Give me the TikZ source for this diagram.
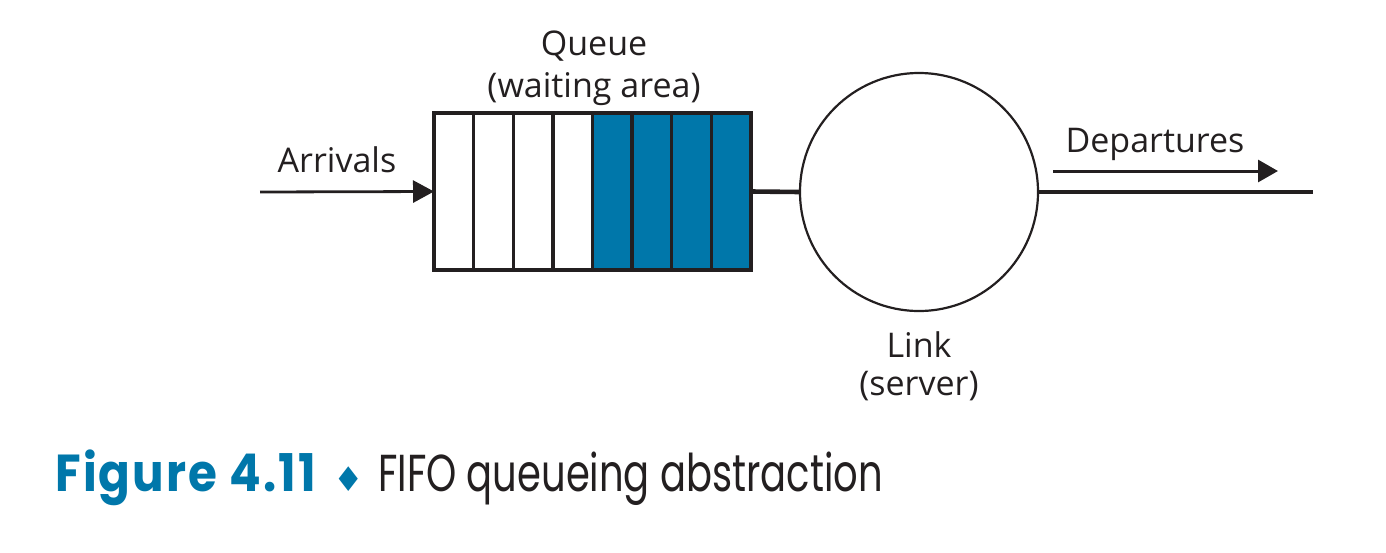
\documentclass[tikz,border=0pt]{standalone}
\usepackage{fontspec}
\setmainfont{Open Sans}
\newfontfamily\capfont[FakeStretch=0.74, BoldFeatures={FakeStretch=0.9, LetterSpace=4}]{Poppins}
\newfontfamily\symfont{DejaVu Sans}
\usetikzlibrary{arrows.meta}
\definecolor{qblue}{RGB}{0,119,170}
\definecolor{ink}{RGB}{35,31,32}

\begin{document}
\begin{tikzpicture}[x=0.5pt,y=-0.5pt,
    lbl/.style={font=\fontsize{17}{20}\selectfont, text=ink, inner sep=0pt, anchor=base},
    cell/.style={draw=ink, line width=1.7pt, minimum width=19.8pt, minimum height=78.5pt, inner sep=0pt, outer sep=0pt},
    wire/.style={draw=ink, line width=2.3pt}]
        \useasboundingbox (0,0) rectangle (1386,552);
        % Draw the queue cells
        \foreach \i in {1,...,4}
            \node[cell, fill=white] (c\i) at ({434+39.625*(\i-0.5)},191.5) {};
        \foreach \i in {5,...,8}
            \node[cell, fill=qblue] (c\i) at ({434+39.625*(\i-0.5)},191.5) {};
        \node[lbl] (qname) at (594,55) {Queue};
        \node[lbl] (qarea) at (594,97) {(waiting area)};
        % Draw the link
        \node[draw=ink, line width=1.1pt, circle, minimum size=119pt, inner sep=0pt, outer sep=0pt] (link) at (919,192) {};
        \node[lbl] (lname) at (919,357) {Link};
        \node[lbl] (lserv) at (919,395) {(server)};
        \draw[wire] (c8.east) -- (link.west);
        \coordinate (out) at (1313,192);
        \draw[wire] (link.east) -- (out);
        % Arrivals and departures
        \coordinate (arr) at (260,192);
        \draw[draw=ink, line width=1.4pt, -{Triangle[length=10.5pt, width=11pt]}] (arr) -- (c1.west);
        \node[lbl] (arrlbl) at (337,172) {Arrivals};
        \coordinate (dep0) at (1053,171);
        \coordinate (dep1) at (1278,171);
        \draw[draw=ink, line width=1.5pt, -{Triangle[length=10pt, width=11pt]}] (dep0) -- (dep1);
        \node[lbl] (deplbl) at (1155,152) {Departures};
        % Caption
        \node[anchor=base west, inner sep=0pt, font=\capfont\fontsize{26}{30}\selectfont, text=ink] (cap) at (55,491)
            {{\color{qblue}\bfseries Figure 4.11}\hspace{9pt}{\symfont\fontsize{17}{20}\selectfont\color{qblue}♦}\hspace{7pt}FIFO queueing abstraction};
    \end{tikzpicture}
\end{document}
